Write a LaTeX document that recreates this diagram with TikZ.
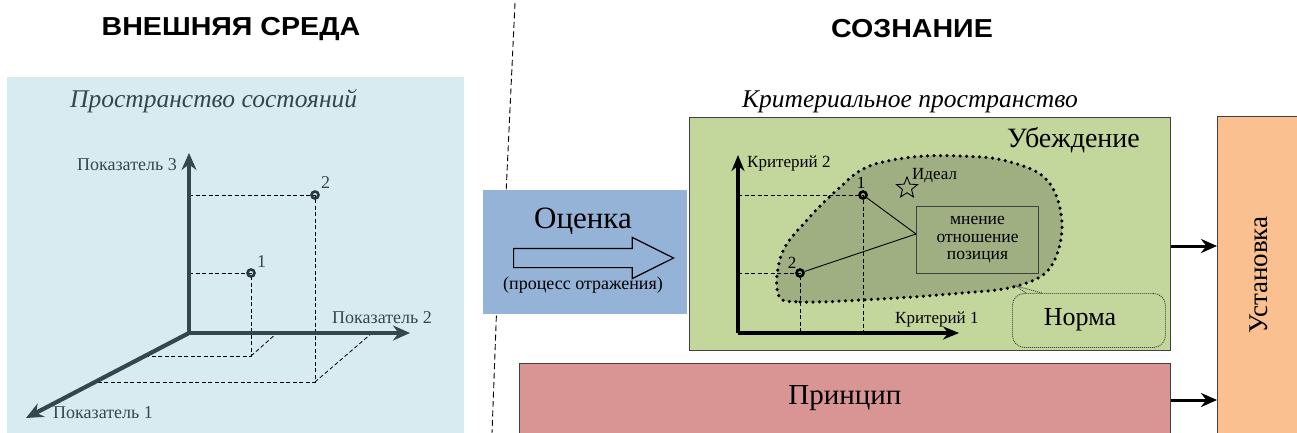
\documentclass[tikz,border=0pt]{standalone}
\usepackage{fontspec}
\setmainfont{Liberation Serif}
\newfontfamily\headfont{Liberation Sans}
\usetikzlibrary{shapes.geometric,shapes.arrows,arrows.meta}
\definecolor{envblue}{RGB}{216,235,240}
\definecolor{evalblue}{RGB}{149,179,215}
\definecolor{belgreen}{RGB}{195,214,155}
\definecolor{blobgreen}{RGB}{160,175,130}
\definecolor{princred}{RGB}{217,149,148}
\definecolor{setorange}{RGB}{250,192,144}
\definecolor{slate}{RGB}{50,72,78}
\newcommand{\fsz}[1]{\fontsize{#1}{#1}\selectfont}

\begin{document}
\begin{tikzpicture}[x=1pt,y=-1pt,
  box/.style={draw=black!75,line width=1pt,inner sep=0pt,anchor=north west},
  axisenv/.style={line width=4.2pt,slate,-{Stealth[length=17pt,width=15pt]}},
  axiscrit/.style={line width=3.6pt,black,-{Stealth[length=16pt,width=13pt]}},
  proj/.style={line width=0.8pt,dash pattern=on 4pt off 2.5pt},
  dotmark/.style={circle,draw,line width=2.6pt,inner sep=0pt,minimum size=7pt},
  envlbl/.style={inner sep=0pt,text=slate,font=\fsz{18}},
  critlbl/.style={inner sep=0pt,font=\fsz{17}},
  headlbl/.style={inner sep=0pt,xscale=1.1,transform shape,font=\headfont\bfseries\fsz{26}},
  flow/.style={line width=3pt,-{Stealth[length=16pt,width=14pt]}}]
\useasboundingbox (0,0) rectangle (1297,433);

\node[headlbl] (outer) at (231,29) {ВНЕШНЯЯ СРЕДА};
\node[headlbl] (mind) at (912,29) {СОЗНАНИЕ};
\draw [line width=0.9pt,dash pattern=on 6pt off 3.5pt] (515,3) -- (505,215) .. controls (502,226) and (500,232) .. (499,245) -- (492,433);

\node[box,draw=none,fill=envblue,minimum width=457,minimum height=357] (env) at (6,77) {};
\node[envlbl,anchor=base west,font=\itshape\fsz{25.5}] (envtitle) at (70,108) {Пространство состояний};

\coordinate (o) at (189,333);
\coordinate (a1) at (26,418);
\coordinate (a2) at (410,333);
\coordinate (a3) at (189,153);
\draw [proj] (189,273) -- (251,273) -- (251,356) -- (145,356);
\draw [proj] (251,356) -- (277,333);
\draw [proj] (189,195) -- (315,195) -- (315,382) -- (96,382);
\draw [proj] (315,382) -- (372,333);
\draw [axisenv] (o) -- (a3);
\draw [axisenv] (o) -- (a2);
\draw [axisenv] (o) -- (a1);
\node[envlbl,anchor=base east] (k3) at (177,170) {Показатель 3};
\node[envlbl,anchor=base west] (k2) at (332,323) {Показатель 2};
\node[envlbl,anchor=base west] (k1) at (53,418) {Показатель 1};
\node[dotmark,draw=slate!80!black] (s1) at (251,273) {};
\node[dotmark,draw=slate!80!black] (s2) at (315,195) {};
\node[envlbl,anchor=base west] at (257,267) {1};
\node[envlbl,anchor=base west] at (321,188) {2};

\node[box,draw=none,fill=evalblue,minimum width=204,minimum height=124] (eval) at (482,189) {};
\node[inner sep=0pt,font=\fsz{31}] (evaltxt) at (583,221) {Оценка};
\node[single arrow,draw,line width=1.2pt,inner xsep=0pt,inner ysep=9pt,minimum height=160,
  single arrow head extend=11pt,single arrow tip angle=53,anchor=tail] (evalarrow) at (513,258) {};
\node[inner sep=0pt,font=\fsz{18}] (evalsub) at (583,285) {(процесс отражения)};

\node[inner sep=0pt,anchor=base west,font=\itshape\fsz{25.5}] (crittitle) at (742,108) {Критериальное пространство};
\node[box,fill=belgreen,minimum width=481,minimum height=233] (bel) at (689,117) {};
\node[inner sep=0pt,anchor=base east,font=\fsz{28}] (beltxt) at (1140,147) {Убеждение};

\draw [fill=blobgreen,line width=3.5pt,line cap=round,dash pattern=on 0pt off 6.5pt]
  plot[smooth cycle,tension=0.6] coordinates {(778,294) (800,302) (880,299) (950,294) (1013,287)
  (1050,268) (1062,223) (1047,180) (1007,161) (960,156) (913,157) (867,167) (837,190) (807,220) (782,253)};

\node[box,fill=blobgreen,minimum width=122,minimum height=67,align=center,font=\fsz{17.5}] (view) at (916,206)
  {\baselineskip=17pt мнение\\ отношение\\ позиция};

\draw [proj] (738,195) -- (863,195) -- (863,333);
\draw [proj] (738,273) -- (800,273) -- (800,333);
\coordinate (c0) at (738,333);
\coordinate (c1) at (959,333);
\coordinate (c2) at (738,155);
\draw [axiscrit] (c0) -- (c2);
\draw [axiscrit] (c0) -- (c1);
\node[critlbl,anchor=base west] (crit2) at (747,167) {Критерий 2};
\node[critlbl,anchor=base west] (crit1) at (895,323) {Критерий 1};

\node[dotmark] (p1) at (863,195) {};
\node[dotmark] (p2) at (800,273) {};
\node[critlbl,anchor=base] at (861,188) {1};
\node[critlbl,anchor=base] at (792,268) {2};
\draw [line width=0.9pt] (p1) -- ([yshift=6pt]view.west);
\draw [line width=0.9pt] (p2) -- ([yshift=6pt]view.west);

\node[star,star points=5,star point ratio=2.3,draw,line width=0.9pt,inner sep=0pt,minimum size=22pt] (ideal) at (907,188) {};
\node[critlbl,anchor=base west] (idealtxt) at (912,179) {Идеал};

\node[box,rounded corners=12pt,draw=black!75,line width=0.9pt,dash pattern=on 1pt off 1pt,minimum width=153,minimum height=54] (norm) at (1012,293) {};
\draw [line width=0.9pt,dash pattern=on 1pt off 1pt,draw=black!75] (1026,293) -- (1016,286) -- (1042,293);
\node[inner sep=0pt,font=\fsz{26}] (normtxt) at (1080,320) {Норма};

\node[box,fill=princred,minimum width=651,minimum height=74] (princ) at (519,363) {};
\node[inner sep=0pt,font=\fsz{29}] (princtxt) at (845,398) {Принцип};

\node[box,fill=setorange,minimum width=82,minimum height=320] (set) at (1217,116) {};
\node[inner sep=0pt,rotate=90,font=\fsz{27}] (settxt) at (1259,275) {Установка};

\draw [flow] (bel.east |- 0,246) -- (set.west |- 0,246);
\draw [flow] (princ.east |- 0,400) -- (set.west |- 0,400);
\end{tikzpicture}
\end{document}
